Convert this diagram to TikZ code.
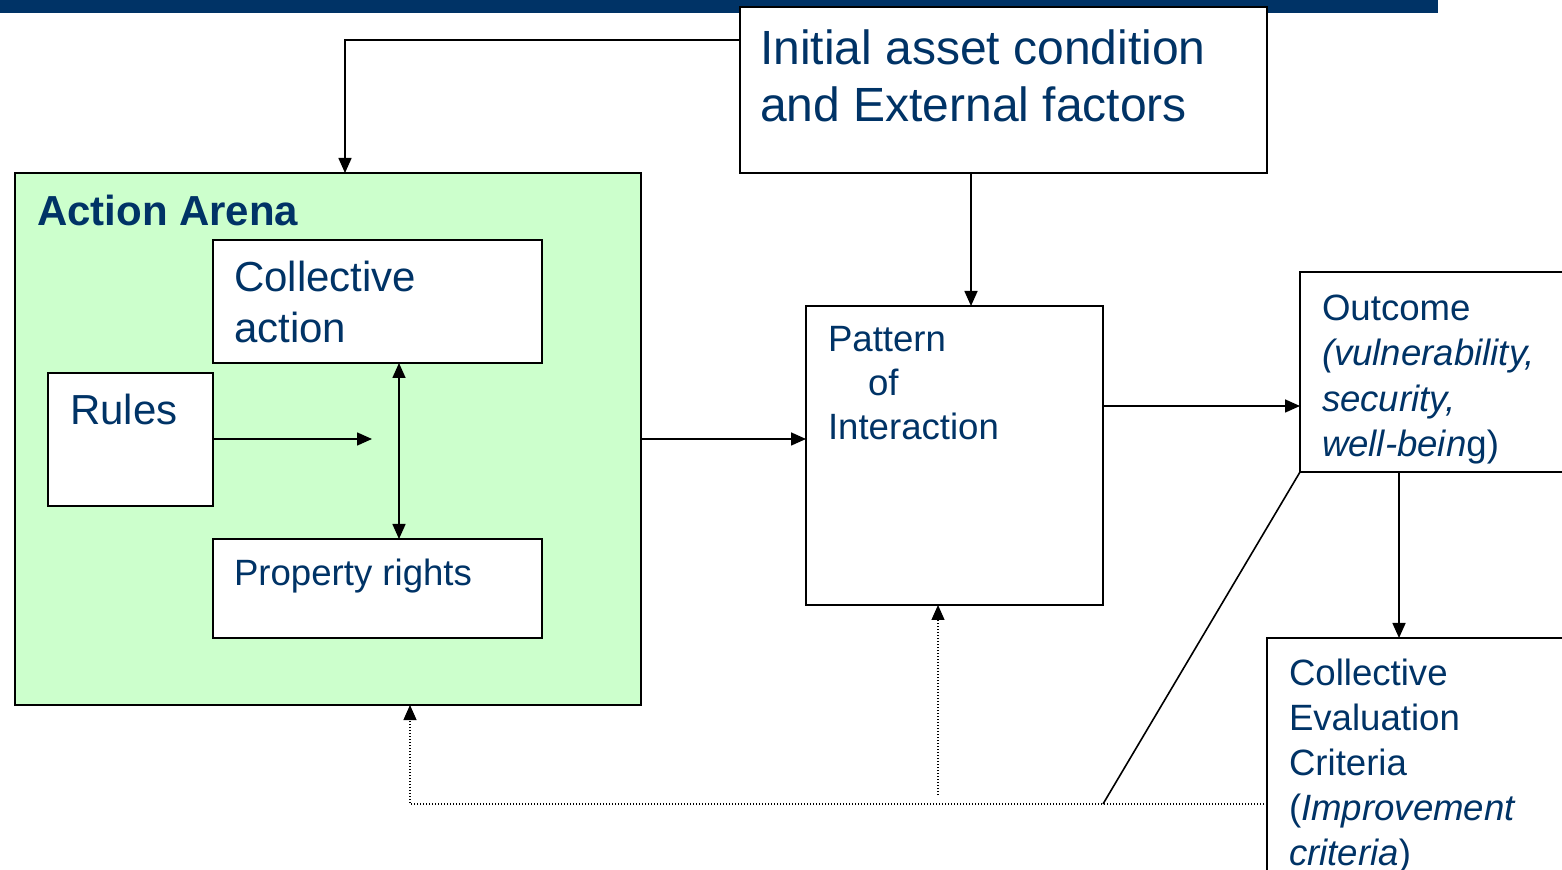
\documentclass[tikz,border=0pt]{standalone}
\usepackage{fontspec}
\setmainfont{Liberation Sans}
\usetikzlibrary{arrows.meta}
\definecolor{dblue}{HTML}{003366}
\definecolor{lgreen}{HTML}{CCFFCC}
\begin{document}
\begin{tikzpicture}[x=0.5pt,y=-0.5pt,
  box/.style={draw,line width=1pt,fill=white,inner sep=0,outer sep=0,anchor=north west},
  txt/.style={text=dblue,inner sep=0,outer sep=0,anchor=base west,align=left},
  arr/.style={line width=0.8pt,-{Triangle[length=7.5pt,width=6.5pt]}},
  darr/.style={line width=0.8pt,{Triangle[length=7.5pt,width=6.5pt]}-{Triangle[length=7.5pt,width=6.5pt]}},
  dotarr/.style={line width=0.6pt,dash pattern=on 0.6pt off 0.9pt,-{Triangle[length=7.5pt,width=6.5pt]}},
  plain/.style={line width=0.8pt}]
\useasboundingbox (0,0) rectangle (1562,870);
\clip (0,0) rectangle (1562,870);
\fill[dblue] (0,0) rectangle (1438,13);
% boxes
\node[box,minimum width=263.5pt,minimum height=83pt] (init) at (740,7) {};
\node[box,fill=lgreen,minimum width=313pt,minimum height=266pt] (arena) at (15,173) {};
\node[box,minimum width=164.5pt,minimum height=61.5pt] (coll) at (213,240) {};
\node[box,minimum width=82.5pt,minimum height=66.5pt] (rules) at (48,373) {};
\node[box,minimum width=164.5pt,minimum height=49.5pt] (prop) at (213,539) {};
\node[box,minimum width=148.5pt,minimum height=149.5pt] (pat) at (806,306) {};
\node[box,minimum width=150pt,minimum height=100pt] (out) at (1300,272) {};
\node[box,minimum width=160pt,minimum height=150pt] (eval) at (1267,638) {};
% texts (base anchor = baseline of last line)
\node[txt,font={\fontsize{24pt}{28.5pt}\selectfont}] (tinit) at (760,122) {Initial asset condition\\and External factors};
\node[txt,font={\fontsize{21pt}{25pt}\selectfont\bfseries}] (tarena) at (37,226) {Action Arena};
\node[txt,font={\fontsize{21pt}{25.5pt}\selectfont}] (tcoll) at (234,343) {Collective\\action};
\node[txt,font={\fontsize{21pt}{25pt}\selectfont}] (trules) at (70,425) {Rules};
\node[txt,font={\fontsize{18.3pt}{22pt}\selectfont}] (tprop) at (234,586) {Property rights};
\node[txt,font={\fontsize{18.3pt}{22pt}\selectfont}] (tpat) at (828,440) {Pattern\\\hspace*{20pt}of\\Interaction};
\node[txt,font={\fontsize{18.3pt}{22.8pt}\selectfont}] (tout) at (1322,457) {Outcome\\\textit{(vulnerability,}\\\textit{security,}\\\textit{well-bein}g)};
\node[txt,font={\fontsize{18.3pt}{22.5pt}\selectfont}] (teval) at (1289,865) {Collective\\Evaluation\\Criteria\\(\textit{Improvement}\\\textit{criteria})};
% connectors
\draw[arr] (init.west |- 0,40) -| (arena.north -| 345,0);
\draw[arr] (init.south -| 971,0) -- (pat.north -| 971,0);
\coordinate (rr) at (372,439);
\draw[arr] (rules.east |- rr) -- (rr);
\draw[darr] (coll.south -| 399,0) -- (prop.north -| 399,0);
\draw[arr] (arena.east |- 0,439) -- (pat.west |- 0,439);
\draw[arr] (pat.east |- 0,406) -- (out.west |- 0,406);
\draw[arr] (out.south -| 1399,0) -- (eval.north -| 1399,0);
\coordinate (dj) at (1103,804);
\draw[plain] (out.south west) -- (dj);
\draw[dotarr] (eval.west |- dj) -| (arena.south -| 410,0);
\coordinate (pv) at (938,795);
\draw[dotarr] (pv) -- (pat.south -| pv);
\end{tikzpicture}
\end{document}
